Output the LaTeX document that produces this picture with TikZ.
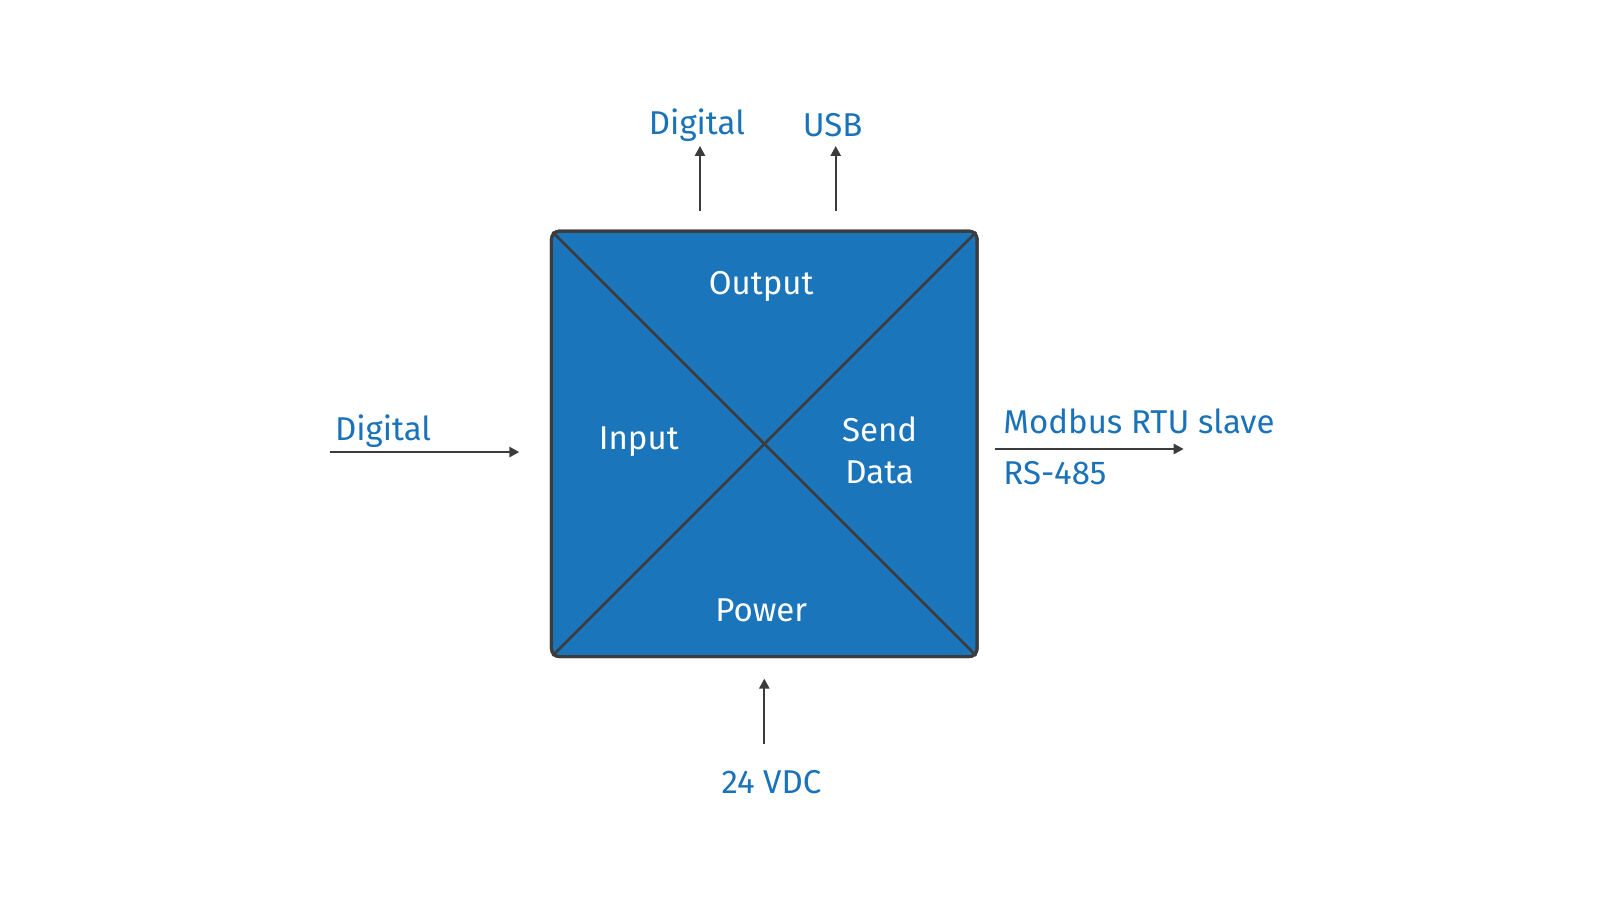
\documentclass[tikz,border=0pt]{standalone}
\usepackage{fontspec}
\setmainfont{Fira Sans}
\usetikzlibrary{arrows.meta}
\definecolor{boxblue}{HTML}{1B75BB}
\definecolor{txtblue}{HTML}{1A72B9}
\definecolor{linegray}{HTML}{3C3C3C}
\begin{document}
\begin{tikzpicture}[x=0.5102pt,y=-0.5102pt,
  lbl/.style={text=txtblue,font=\fontsize{16.5}{20}\selectfont,inner sep=0pt},
  inlbl/.style={text=white,font=\fontsize{16.5}{20}\selectfont,inner sep=0pt,align=center},
  conn/.style={draw=linegray,line width=1.2pt,-{Triangle[length=5pt,width=5pt]}},
  diag/.style={draw=linegray,line width=1.3pt},
  unit/.style={draw=linegray,line width=1.5pt,fill=boxblue,rounded corners=4pt,minimum width=212.8pt,minimum height=212.8pt,inner sep=0pt}]
\useasboundingbox (0,0) rectangle (1568,882);
\node[unit] (box) at (749,435) {};
\begin{scope}
  \clip[rounded corners=4pt] (box.north west) rectangle (box.south east);
  \draw[diag] (box.north west) -- (box.south east);
  \draw[diag] (box.south west) -- (box.north east);
\end{scope}
\node[unit,fill=none] (frame) at (749,435) {};
\node[inlbl] (out) at (746,281) {Output};
\node[inlbl] (in) at (626,433) {Input};
\node[inlbl] (send) at (862,441) {Send\\[1pt]Data};
\node[inlbl] (pow) at (746,598) {Power};
% top
\coordinate (t1s) at (686,207);
\coordinate (t1e) at (686,143);
\draw[conn] (t1s) -- (t1e);
\node[lbl] (dtop) at (683,123) {Digital};
\coordinate (t2s) at (819,207);
\coordinate (t2e) at (819,143);
\draw[conn] (t2s) -- (t2e);
\node[lbl] (usb) at (816,123) {USB};
% left
\coordinate (ls) at (323,443);
\coordinate (le) at (509,443);
\draw[conn] (ls) -- (le);
\node[lbl,anchor=west] (dleft) at (328,423) {Digital};
% right
\coordinate (rs) at (975,440);
\coordinate (re) at (1160,440);
\draw[conn] (rs) -- (re);
\node[lbl,anchor=west] (mod) at (983,413) {Modbus RTU slave};
\node[lbl,anchor=west] (rs485) at (983,464) {RS-485};
% bottom
\coordinate (bs) at (749,729);
\coordinate (be) at (749,665);
\draw[conn] (bs) -- (be);
\node[lbl] (vdc) at (756,766) {24 VDC};
\end{tikzpicture}
\end{document}
